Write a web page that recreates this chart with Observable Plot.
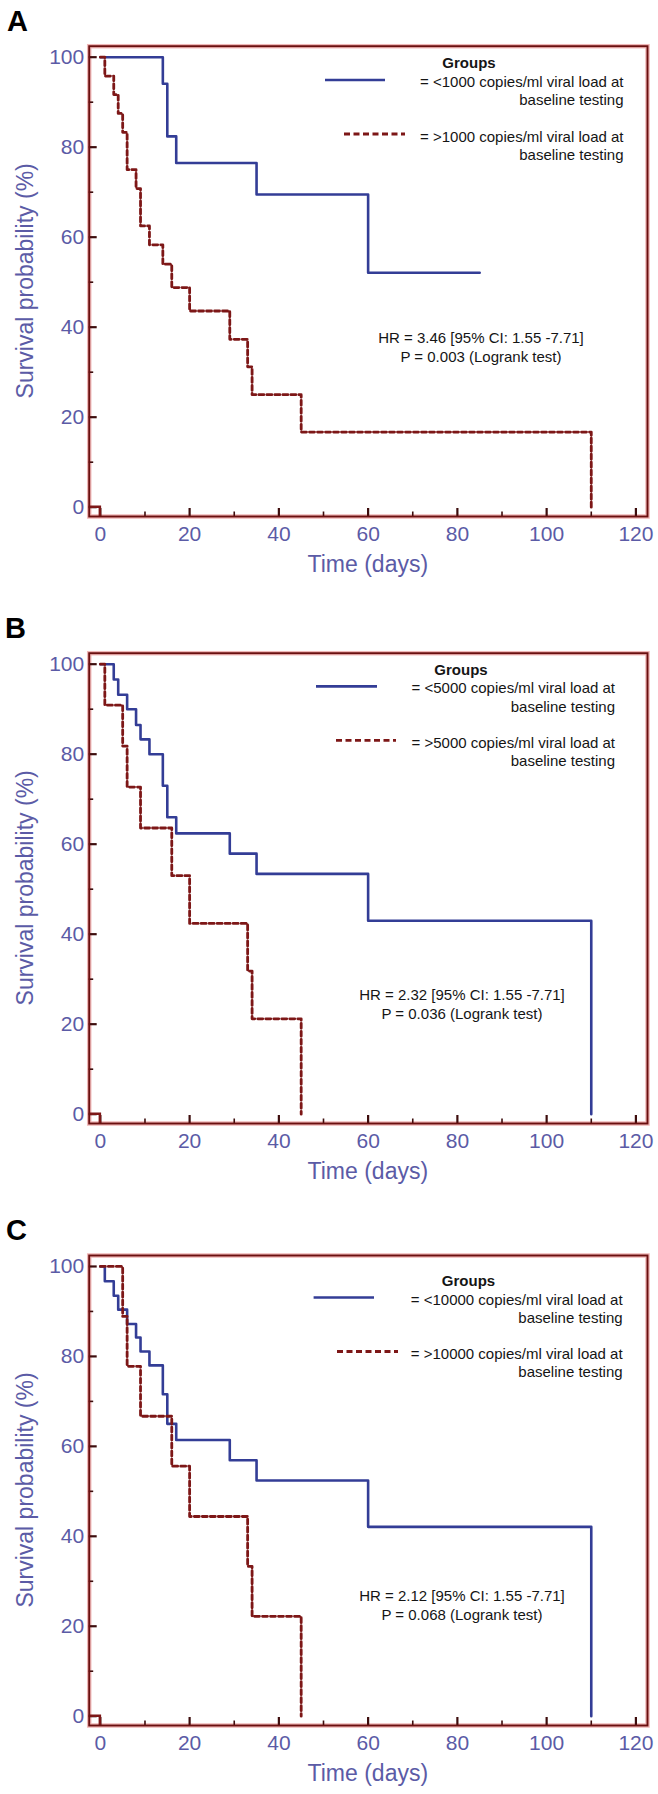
<!DOCTYPE html>
<html>
<head>
<meta charset="utf-8">
<script src="https://cdn.jsdelivr.net/npm/d3@7"></script>
<script src="https://cdn.jsdelivr.net/npm/@observablehq/plot@0.6"></script>
<style>
  html, body { margin: 0; padding: 0; background: #fff; }
  #chart { width: 658px; }
  #chart svg { display: block; }
</style>
</head>
<body>
<div id="chart"></div>
<script>
// ---------- DATA (Kaplan–Meier steps: time in days, survival %) ----------
// Panel A: 1000 copies/ml
const tA_low  = [0, 14, 15, 17, 35, 60, 85];
const sA_low  = [100, 94.1, 82.4, 76.5, 69.5, 52.1, 52.1];
const tA_high = [0, 1, 3, 4, 5, 6, 8, 9, 11, 14, 16, 20, 29, 33, 34, 45, 110];
const sA_high = [100, 95.8, 91.7, 87.5, 83.3, 75.0, 70.8, 62.5, 58.3, 54.0, 48.8, 43.6, 37.3, 31.2, 25.0, 16.7, 0];
// Panel B: 5000 copies/ml
const tB_low  = [0, 3, 4, 6, 8, 9, 11, 14, 15, 17, 29, 35, 60, 110];
const sB_low  = [100, 96.6, 93.2, 90.0, 86.5, 83.3, 80.0, 73.0, 66.0, 62.4, 57.9, 53.4, 43.0, 0];
const tB_high = [0, 1, 5, 6, 9, 16, 20, 33, 34, 45];
const sB_high = [100, 90.9, 81.8, 72.7, 63.6, 53.0, 42.4, 31.8, 21.2, 0];
// Panel C: 10000 copies/ml
const tC_low  = [0, 1, 3, 4, 6, 8, 9, 11, 14, 15, 17, 29, 35, 60, 110];
const sC_low  = [100, 96.7, 93.5, 90.4, 87.2, 84.2, 81.1, 78.0, 71.6, 65.0, 61.4, 56.9, 52.4, 42.1, 0];
const tC_high = [0, 5, 6, 9, 16, 20, 33, 34, 45];
const sC_high = [100, 88.9, 77.8, 66.7, 55.6, 44.4, 33.3, 22.2, 0];

const panelLetters = ["A", "B", "C"];
const thresholds   = ["1000", "5000", "10000"];
const hrTexts = ["HR = 3.46 [95% CI: 1.55 -7.71]", "HR = 2.32 [95% CI: 1.55 -7.71]", "HR = 2.12 [95% CI: 1.55 -7.71]"];
const pTexts  = ["P = 0.003 (Logrank test)", "P = 0.036 (Logrank test)", "P = 0.068 (Logrank test)"];
const xTicks = [0, 20, 40, 60, 80, 100, 120];
const xMinor = [10, 30, 50, 70, 90, 110];
const yTicks = [0, 20, 40, 60, 80, 100];
const yMinor = [10, 30, 50, 70, 90];
const xTitle = "Time (days)";
const yTitle = "Survival probability (%)";
const legendTitle = "Groups";

// ---------- STYLE / LAYOUT ----------
const FONT = "'Liberation Sans', Arial, Helvetica, sans-serif";
const LABEL = "#5b5ba6", BLUE = "#333d96", RED = "#7d1717";
const FRAME = "#6b1010", HALO = "#efb7b7", TICK = "#3d0d0d", INK = "#151515";
const X_DOMAIN = [-2.5, 122.6], Y_DOMAIN = [-2.07, 102.44];

const layout = [
  {h: 600, mt: 45.7, mb: 84,  leg: 0,    gx: 469,   tr: 623.5, bl: [325, 385],   rd: [344, 405], hrx: 481, hry: 292.3, lx: 7},
  {h: 600, mt: 52.7, mb: 77,  leg: -0.6, gx: 461,   tr: 615,   bl: [316, 377],   rd: [336, 396], hrx: 462, hry: 341.9, lx: 5},
  {h: 594, mt: 55,   mb: 69,  leg: 8.2,  gx: 468.5, tr: 622.6, bl: [313.6, 374], rd: [337, 398], hrx: 462, hry: 341,   lx: 6}
];

const series = [
  [tA_low, sA_low, tA_high, sA_high],
  [tB_low, sB_low, tB_high, sB_high],
  [tC_low, sC_low, tC_high, sC_high]
];

function rows(ts, ss) { return ts.map((t, i) => ({t, s: ss[i]})); }

function decor(i) {
  return (index, scales, values, dim) => {
    const L = layout[i];
    const left = dim.marginLeft, top = dim.marginTop;
    const right = dim.width - dim.marginRight, bottom = dim.height - dim.marginBottom;
    const g = d3.create("svg:g").attr("font-family", FONT);
    // small red mark at the origin corner
    const x0 = scales.x(0), y0 = scales.y(0);
    g.append("path").attr("d", `M${left},${y0}H${x0}V${bottom}`)
      .attr("fill", "none").attr("stroke", RED).attr("stroke-width", 2.5);
    // panel letter
    g.append("text").attr("x", L.lx).attr("y", top - 15).attr("font-size", 29)
      .attr("text-anchor", "start")
      .attr("font-weight", "bold").attr("fill", "#000").text(panelLetters[i]);
    // axis titles
    g.append("text").attr("x", (left + right) / 2).attr("y", bottom + 56)
      .attr("text-anchor", "middle").attr("font-size", 23).attr("fill", LABEL).text(xTitle);
    g.append("text").attr("transform", `translate(33,${(top + bottom) / 2}) rotate(-90)`)
      .attr("text-anchor", "middle").attr("font-size", 23).attr("fill", LABEL).text(yTitle);
    // legend
    const o = top + L.leg, base = 5.4;
    g.append("text").attr("x", L.gx).attr("y", o + 17.2 + base).attr("text-anchor", "middle")
      .attr("font-size", 15).attr("font-weight", "bold").attr("fill", INK).text(legendTitle);
    const lines = [
      [35.9, `= <${thresholds[i]} copies/ml viral load at`],
      [54.2, "baseline testing"],
      [90.4, `= >${thresholds[i]} copies/ml viral load at`],
      [108.6, "baseline testing"]
    ];
    for (const [dy, txt] of lines) {
      g.append("text").attr("x", L.tr).attr("y", o + dy + base).attr("text-anchor", "end")
        .attr("font-size", 15).attr("fill", INK).text(txt);
    }
    g.append("line").attr("x1", L.bl[0]).attr("x2", L.bl[1]).attr("y1", o + 34.3).attr("y2", o + 34.3)
      .attr("stroke", BLUE).attr("stroke-width", 2.6);
    g.append("line").attr("x1", L.rd[0]).attr("x2", L.rd[1]).attr("y1", o + 88.3).attr("y2", o + 88.3)
      .attr("stroke", RED).attr("stroke-width", 2.8).attr("stroke-dasharray", "6,3.5");
    // HR / P annotation
    g.append("text").attr("x", L.hrx).attr("y", top + L.hry + base).attr("text-anchor", "middle")
      .attr("font-size", 15).attr("fill", INK).text(hrTexts[i]);
    g.append("text").attr("x", L.hrx).attr("y", top + L.hry + 19 + base).attr("text-anchor", "middle")
      .attr("font-size", 15).attr("fill", INK).text(pTexts[i]);
    return g.node();
  };
}

const pxPerY = 470.3 / (Y_DOMAIN[1] - Y_DOMAIN[0]);
const pxPerX = 558.3 / (X_DOMAIN[1] - X_DOMAIN[0]);

const chart = document.getElementById("chart");
layout.forEach((L, i) => {
  const [tl, sl, th, sh] = series[i];
  const plot = Plot.plot({
    width: 658,
    height: L.h,
    marginTop: L.mt,
    marginBottom: L.mb,
    marginLeft: 88.7,
    marginRight: 11,
    x: {domain: X_DOMAIN},
    y: {domain: Y_DOMAIN},
    style: {fontFamily: FONT, background: "#fff", overflow: "visible"},
    marks: [
      Plot.frame({stroke: HALO, strokeWidth: 4.5}),
      Plot.axisX({ticks: xTicks, tickSize: 0, tickPadding: 10, fontSize: 21, color: LABEL, label: null}),
      Plot.axisY({ticks: yTicks, tickSize: 0, tickPadding: 5, fontSize: 21, color: LABEL, label: null}),
      // inward ticks
      Plot.ruleX(xTicks, {x: d => d, y1: () => Y_DOMAIN[0], y2: () => Y_DOMAIN[0] + 8 / pxPerY, stroke: TICK, strokeWidth: 2.2}),
      Plot.ruleX(xMinor, {x: d => d, y1: () => Y_DOMAIN[0], y2: () => Y_DOMAIN[0] + 4.5 / pxPerY, stroke: TICK, strokeWidth: 1.6}),
      Plot.ruleY(yTicks, {y: d => d, x1: () => X_DOMAIN[0], x2: () => X_DOMAIN[0] + 8 / pxPerX, stroke: TICK, strokeWidth: 2.2}),
      Plot.ruleY(yMinor, {y: d => d, x1: () => X_DOMAIN[0], x2: () => X_DOMAIN[0] + 4.5 / pxPerX, stroke: TICK, strokeWidth: 1.6}),
      // survival curves
      Plot.line(rows(tl, sl), {x: "t", y: "s", curve: "step-after", stroke: BLUE, strokeWidth: 2.6}),
      Plot.line(rows(th, sh), {x: "t", y: "s", curve: "step-after", stroke: RED, strokeWidth: 2.8, strokeDasharray: "5,3"}),
      decor(i),
      Plot.frame({stroke: FRAME, strokeWidth: 1.9})
    ]
  });
  chart.appendChild(plot);
});
</script>
</body>
</html>
